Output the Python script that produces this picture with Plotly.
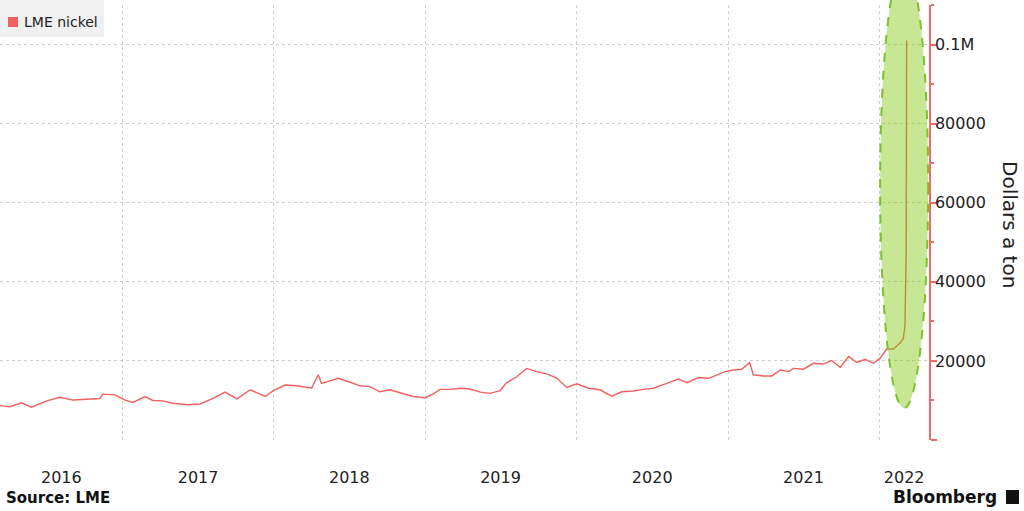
import datetime as dt
import plotly.graph_objects as go

# ---- data ----
dates = [
    "2016-03-11", "2016-04-04", "2016-05-02", "2016-05-26", "2016-07-02", "2016-08-03",
    "2016-09-03", "2016-10-06", "2016-11-07", "2016-11-14", "2016-12-13", "2017-01-07",
    "2017-01-26", "2017-02-24", "2017-03-15", "2017-04-08", "2017-05-02", "2017-06-08",
    "2017-07-07", "2017-08-07", "2017-09-05", "2017-10-04", "2017-11-05", "2017-12-11",
    "2017-12-30", "2018-01-28", "2018-02-26", "2018-04-02", "2018-04-18", "2018-04-26",
    "2018-06-05", "2018-07-04", "2018-07-28", "2018-08-21", "2018-09-14", "2018-10-08",
    "2018-11-01", "2018-12-03", "2019-01-01", "2019-01-20", "2019-02-06", "2019-03-02",
    "2019-03-26", "2019-04-19", "2019-05-14", "2019-06-07", "2019-07-01", "2019-07-17",
    "2019-08-10", "2019-09-03", "2019-09-27", "2019-10-25", "2019-11-15", "2019-12-09",
    "2020-01-02", "2020-01-30", "2020-02-27", "2020-03-26", "2020-04-20", "2020-05-18",
    "2020-06-11", "2020-07-05", "2020-08-06", "2020-09-03", "2020-09-24", "2020-10-22",
    "2020-11-15", "2020-12-09", "2020-12-25", "2021-01-14", "2021-02-03", "2021-02-22",
    "2021-03-03", "2021-03-27", "2021-04-17", "2021-05-07", "2021-05-27", "2021-06-08",
    "2021-07-02", "2021-07-26", "2021-08-19", "2021-09-08", "2021-09-29", "2021-10-19",
    "2021-11-08", "2021-11-28", "2021-12-18", "2022-01-03", "2022-01-19", "2022-02-04",
    "2022-02-20", "2022-02-28", "2022-03-03", "2022-03-04", "2022-03-07", "2022-03-08",
]
nickel = [
    8700, 8400, 9400, 8300, 9900, 10800,
    10100, 10300, 10500, 11600, 11400, 10100,
    9500, 11000, 10000, 9900, 9300, 8900,
    9100, 10500, 12100, 10400, 12700, 11000,
    12400, 13900, 13700, 13100, 16500, 14300,
    15600, 14600, 13700, 13500, 12200, 12700,
    12000, 11000, 10700, 11600, 12800, 12800,
    13100, 12900, 12100, 11800, 12500, 14500,
    16000, 18100, 17300, 16600, 15600, 13300,
    14200, 13100, 12700, 11100, 12200, 12400,
    12800, 13100, 14300, 15400, 14500, 15800,
    15600, 16500, 17300, 17700, 17900, 19600,
    16500, 16200, 16200, 17700, 17300, 18100,
    17900, 19400, 19200, 20100, 18400, 21100,
    19600, 20400, 19400, 20700, 23000, 23000,
    24500, 25700, 27500, 29000, 48200, 101000,
]
series_name = "LME nickel"
x_range = ["2016-03-11", "2022-05-01"]
y_range = [0, 110000]
y_tickvals = [0, 20000, 40000, 60000, 80000, 100000]
y_ticktext = ["", "20000", "40000", "60000", "80000", "0.1M"]
years = [2016, 2017, 2018, 2019, 2020, 2021, 2022]
highlight_x = ["2022-01-03", "2022-04-29"]

# ---- styles ----
RED = "#f2615f"
AXIS_RED = "#f26a68"
FONT = "DejaVu Sans"

# year labels centred on the visible part of each year; grid at year starts
r0 = dt.date.fromisoformat(x_range[0])
r1 = dt.date.fromisoformat(x_range[1])
year_mid, year_starts = [], []
for y in years:
    a = max(dt.date(y, 1, 1), r0)
    b = min(dt.date(y + 1, 1, 1), r1)
    year_mid.append((a + (b - a) / 2).isoformat())
    if dt.date(y, 1, 1) > r0:
        year_starts.append(dt.date(y, 1, 1).isoformat())

fig = go.Figure()
fig.add_trace(go.Scatter(
    x=dates, y=nickel, mode="lines", name=series_name,
    line=dict(color=RED, width=1.4), showlegend=False, hoverinfo="skip",
))

# plot area geometry helpers (pixels -> paper)
W, H = 1024, 511
ML, MR, MT, MB = 0, 95, 5, 71
PW = W - ML - MR
PH = H - MT - MB


def px(xp):
    return (xp - ML) / PW


def py(yp):
    return (H - MB - yp) / PH


fig.update_layout(
    width=W, height=H,
    margin=dict(l=ML, r=MR, t=MT, b=MB, autoexpand=False),
    paper_bgcolor="white", plot_bgcolor="white",
    font=dict(family=FONT, color="#222222"),
    xaxis=dict(
        type="date", range=x_range,
        tickmode="array", tickvals=year_mid, ticktext=[str(y) for y in years],
        ticks="", showgrid=False, showline=False, zeroline=False,
        tickfont=dict(size=16, color="#222222"),
        ticklabelstandoff=26,
        minor=dict(tickmode="array", tickvals=year_starts, showgrid=True,
                   gridcolor="#cfcfcf", griddash="dot", gridwidth=1, ticks=""),
    ),
    yaxis=dict(
        side="right", range=y_range,
        tickmode="array", tickvals=y_tickvals, ticktext=y_ticktext,
        showline=True, linecolor=AXIS_RED, linewidth=1.5,
        ticks="outside", ticklen=6, tickcolor=AXIS_RED, tickwidth=1.5,
        showgrid=True, gridcolor="#cfcfcf", griddash="dot", gridwidth=1,
        zeroline=False,
        tickfont=dict(size=16, color="#222222"),
        ticklabelstandoff=-5,
        minor=dict(dtick=10000, tick0=0, ticks="outside", ticklen=3,
                   tickcolor=AXIS_RED, showgrid=False),
    ),
    showlegend=False,
)

shapes = [
    # highlight ellipse around the spike
    dict(type="circle", xref="x", yref="paper",
         x0=highlight_x[0], x1=highlight_x[1], y0=py(408), y1=py(-36),
         fillcolor="rgba(122,197,0,0.42)",
         line=dict(color="#7dbf2f", width=2, dash="dash"), layer="above"),
    # legend box
    dict(type="rect", xref="paper", yref="paper",
         x0=px(0), x1=px(104), y0=py(37), y1=py(0),
         fillcolor="#f0f0f0", line=dict(width=0), layer="above"),
    dict(type="rect", xref="paper", yref="paper",
         x0=px(8), x1=px(18), y0=py(27), y1=py(17),
         fillcolor=RED, line=dict(width=0), layer="above"),
    # Bloomberg icon
    dict(type="rect", xref="paper", yref="paper",
         x0=px(1006), x1=px(1019), y0=py(504), y1=py(490),
         fillcolor="#111111", line=dict(width=0), layer="above"),
]
fig.update_layout(shapes=shapes)

fig.add_annotation(xref="paper", yref="paper", x=px(22), y=py(22),
                   xanchor="left", yanchor="middle", showarrow=False,
                   text=series_name, font=dict(size=14, color="#222222"))
fig.add_annotation(xref="paper", yref="paper", x=px(1010), y=py(224),
                   xanchor="center", yanchor="middle", showarrow=False,
                   textangle=90, text="Dollars a ton",
                   font=dict(size=20, color="#222222"))
fig.add_annotation(xref="paper", yref="paper", x=px(4), y=py(498),
                   xanchor="left", yanchor="middle", showarrow=False,
                   text="<b>Source: LME</b>", font=dict(size=15, color="#111111"))
fig.add_annotation(xref="paper", yref="paper", x=px(999), y=py(497),
                   xanchor="right", yanchor="middle", showarrow=False,
                   text="<b>Bloomberg</b>", font=dict(size=17, color="#111111"))

fig.write_html(
    "out.html",
    config={"displayModeBar": False},
    post_script="document.body.style.margin='0';document.body.style.overflow='hidden';",
)
